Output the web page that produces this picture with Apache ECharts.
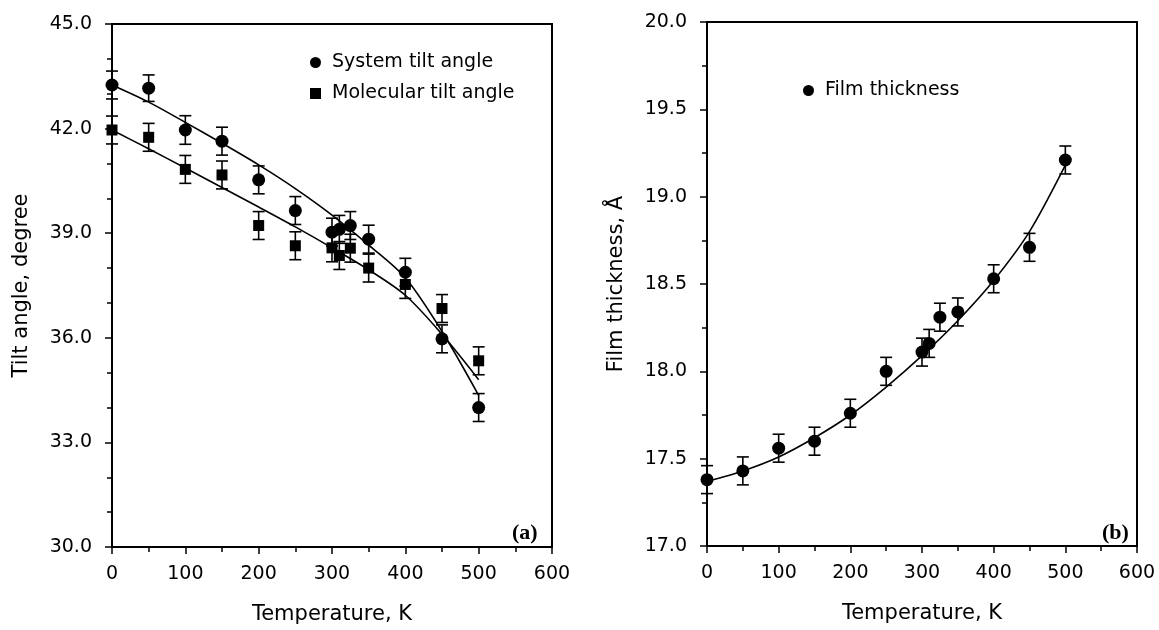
<!DOCTYPE html>
<html><head><meta charset="utf-8">
<script src="https://cdn.jsdelivr.net/npm/echarts@6/dist/echarts.min.js"></script>
<style>html,body{margin:0;padding:0;background:#fff}#c{width:1159px;height:630px}</style>
</head><body><div id="c"></div>
<script>
// ---- data ----
const temperatures = [0, 50, 100, 150, 200, 250, 300, 310, 325, 350, 400, 450, 500];
const systemTilt    = [43.25, 43.16, 41.96, 41.64, 40.53, 39.65, 39.03, 39.11, 39.22, 38.83, 37.88, 35.97, 34.00];
const systemErr     = [0.40, 0.38, 0.41, 0.40, 0.40, 0.40, 0.40, 0.40, 0.40, 0.40, 0.40, 0.40, 0.40];
const molecularTilt = [41.96, 41.75, 40.83, 40.67, 39.22, 38.64, 38.58, 38.36, 38.57, 38.00, 37.53, 36.84, 35.34];
const molecularErr  = [0.40, 0.40, 0.40, 0.40, 0.40, 0.40, 0.40, 0.40, 0.40, 0.40, 0.40, 0.40, 0.40];
const filmThickness = [17.38, 17.43, 17.56, 17.60, 17.76, 18.00, 18.11, 18.16, 18.31, 18.34, 18.53, 18.71, 19.21];
const filmErr       = [0.08, 0.08, 0.08, 0.08, 0.08, 0.08, 0.08, 0.08, 0.08, 0.08, 0.08, 0.08, 0.08];

const fitTemps     = [0, 50, 100, 150, 200, 250, 300, 350, 400, 450, 500];
const systemFit    = [43.25, 42.76, 42.18, 41.58, 40.96, 40.28, 39.52, 38.66, 37.72, 36.18, 34.35];
const molecularFit = [41.96, 41.42, 40.87, 40.31, 39.75, 39.18, 38.58, 37.95, 37.22, 36.10, 34.80];
const filmFit      = [17.37, 17.43, 17.51, 17.62, 17.75, 17.91, 18.09, 18.29, 18.52, 18.80, 19.18];

const xTicks = [0, 100, 200, 300, 400, 500, 600];
const tiltTicks = [30.0, 33.0, 36.0, 39.0, 42.0, 45.0];
const filmTicks = [17.0, 17.5, 18.0, 18.5, 19.0, 19.5, 20.0];

// ---- chart ----
const FONT = 'DejaVu Sans';
const pairs = (xs, ys) => xs.map((x, i) => [x, ys[i]]);
const triples = (xs, ys, es) => xs.map((x, i) => [x, ys[i], es[i]]);

function errRender(params, api) {
  const x = api.value(0), y = api.value(1), e = api.value(2);
  const t = api.coord([x, y + e]), b = api.coord([x, y - e]);
  const hw = 6, st = { stroke: '#000', lineWidth: 1.6 };
  return { type: 'group', children: [
    { type: 'line', shape: { x1: t[0], y1: t[1], x2: b[0], y2: b[1] }, style: st },
    { type: 'line', shape: { x1: t[0] - hw, y1: t[1], x2: t[0] + hw, y2: t[1] }, style: st },
    { type: 'line', shape: { x1: b[0] - hw, y1: b[1], x2: b[0] + hw, y2: b[1] }, style: st }
  ]};
}

function xAxis(idx) {
  return {
    type: 'value', gridIndex: idx, min: xTicks[0], max: xTicks[xTicks.length - 1],
    interval: xTicks[1] - xTicks[0],
    name: 'Temperature, K', nameLocation: 'middle', nameGap: 57,
    nameTextStyle: { fontFamily: FONT, fontSize: 21, color: '#000' },
    axisLine: { show: true, onZero: false, lineStyle: { color: '#000', width: 2 } },
    axisTick: { show: true, inside: false, length: 7, lineStyle: { color: '#000', width: 1.5 } },
    minorTick: { show: true, splitNumber: 2, length: 5, lineStyle: { color: '#000', width: 1.5 } },
    axisLabel: { fontFamily: FONT, fontSize: 19, color: '#000', margin: 18 },
    splitLine: { show: false }
  };
}
function yAxis(idx, ticks, name, minorSplit) {
  return {
    type: 'value', gridIndex: idx, min: ticks[0], max: ticks[ticks.length - 1],
    interval: +(ticks[1] - ticks[0]).toFixed(2),
    name: name, nameLocation: 'middle', nameGap: 80,
    nameTextStyle: { fontFamily: FONT, fontSize: 21, color: '#000' },
    axisLine: { show: true, onZero: false, lineStyle: { color: '#000', width: 2 } },
    axisTick: { show: true, inside: false, length: 7, lineStyle: { color: '#000', width: 1.5 } },
    minorTick: { show: true, splitNumber: minorSplit, length: 5, lineStyle: { color: '#000', width: 1.5 } },
    axisLabel: { fontFamily: FONT, fontSize: 19, color: '#000', margin: 20, formatter: v => v.toFixed(1) },
    splitLine: { show: false }
  };
}

const chart = echarts.init(document.getElementById('c'), null, { renderer: 'canvas' });
chart.setOption({
  backgroundColor: '#fff',
  animation: false,
  grid: [
    { left: 112, right: 607, top: 24, bottom: 83, show: true, borderColor: '#000', borderWidth: 2, backgroundColor: 'transparent' },
    { left: 707, right: 22, top: 22, bottom: 84, show: true, borderColor: '#000', borderWidth: 2, backgroundColor: 'transparent' }
  ],
  xAxis: [xAxis(0), xAxis(1)],
  yAxis: [yAxis(0, tiltTicks, 'Tilt angle, degree', 3), yAxis(1, filmTicks, 'Film thickness, Å', 2)],
  legend: [
    { orient: 'vertical', left: 305, top: 48, itemWidth: 11, itemHeight: 11, itemGap: 12,
      textStyle: { fontFamily: FONT, fontSize: 19, color: '#000', padding: [0, 0, 0, 6] },
      data: [{ name: 'System tilt angle', icon: 'circle' }, { name: 'Molecular tilt angle', icon: 'rect' }] },
    { orient: 'vertical', left: 798, top: 76, itemWidth: 11, itemHeight: 11,
      textStyle: { fontFamily: FONT, fontSize: 19, color: '#000', padding: [0, 0, 0, 6] },
      data: [{ name: 'Film thickness', icon: 'circle' }] }
  ],
  graphic: [
    { type: 'text', left: 512, top: 522, style: { text: '(a)', fontFamily: 'Liberation Serif', fontWeight: 'bold', fontSize: 22, fill: '#000' } },
    { type: 'text', left: 1102, top: 522, style: { text: '(b)', fontFamily: 'Liberation Serif', fontWeight: 'bold', fontSize: 22, fill: '#000' } }
  ],
  series: [
    { type: 'line', xAxisIndex: 0, yAxisIndex: 0, data: pairs(fitTemps, systemFit), smooth: 0.3, symbol: 'none', lineStyle: { color: '#000', width: 1.6 }, z: 2 },
    { type: 'line', xAxisIndex: 0, yAxisIndex: 0, data: pairs(fitTemps, molecularFit), smooth: 0.3, symbol: 'none', lineStyle: { color: '#000', width: 1.6 }, z: 2 },
    { type: 'custom', xAxisIndex: 0, yAxisIndex: 0, renderItem: errRender, data: triples(temperatures, systemTilt, systemErr), z: 3 },
    { type: 'custom', xAxisIndex: 0, yAxisIndex: 0, renderItem: errRender, data: triples(temperatures, molecularTilt, molecularErr), z: 3 },
    { name: 'System tilt angle', type: 'scatter', xAxisIndex: 0, yAxisIndex: 0, data: pairs(temperatures, systemTilt), symbol: 'circle', symbolSize: 13, itemStyle: { color: '#000', opacity: 1 }, z: 4 },
    { name: 'Molecular tilt angle', type: 'scatter', xAxisIndex: 0, yAxisIndex: 0, data: pairs(temperatures, molecularTilt), symbol: 'rect', symbolSize: 11, itemStyle: { color: '#000', opacity: 1 }, z: 4 },

    { type: 'line', xAxisIndex: 1, yAxisIndex: 1, data: pairs(fitTemps, filmFit), smooth: 0.3, symbol: 'none', lineStyle: { color: '#000', width: 1.6 }, z: 2 },
    { type: 'custom', xAxisIndex: 1, yAxisIndex: 1, renderItem: errRender, data: triples(temperatures, filmThickness, filmErr), z: 3 },
    { name: 'Film thickness', type: 'scatter', xAxisIndex: 1, yAxisIndex: 1, data: pairs(temperatures, filmThickness), symbol: 'circle', symbolSize: 13, itemStyle: { color: '#000', opacity: 1 }, z: 4 }
  ]
});
</script>
</body></html>
